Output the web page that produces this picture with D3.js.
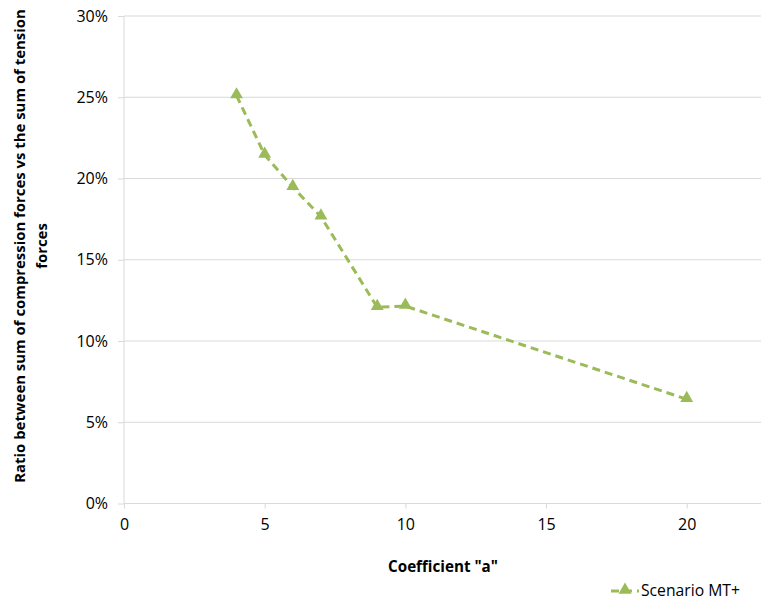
<!DOCTYPE html>
<html><head><meta charset="utf-8">
<script src="https://cdn.jsdelivr.net/npm/d3@7"></script>
<style>body{margin:0;background:#fff}svg{display:block}text{font-family:"Open Sans","Liberation Sans",sans-serif;fill:#000}</style>
</head><body><svg id="c" width="761" height="600"></svg>
<script>
const xValues = [4, 5, 6, 7, 9, 10, 20];
const yValues = [0.251, 0.2145, 0.1946, 0.1765, 0.1208, 0.1215, 0.0642];
const xTicks = [0, 5, 10, 15, 20];
const yTicks = [0, 0.05, 0.10, 0.15, 0.20, 0.25, 0.30];
const seriesName = "Scenario MT+";
const xTitle = 'Coefficient "a"';
const yTitleLines = ["Ratio between sum of compression forces vs the sum of tension", "forces"];

const color = "#9BBB59";
const svg = d3.select("#c");
const x = d3.scaleLinear().domain([0, 22.64]).range([124, 761]);
const y = d3.scaleLinear().domain([0, 0.30]).range([503.5, 16]);

// fit a text element's font size so its width matches a target
function fit(sel, target) {
  const n = sel.node();
  const fs = +sel.attr("font-size");
  const w = n.getComputedTextLength();
  sel.attr("font-size", fs * target / w);
}

// gridlines
svg.append("g").selectAll("line").data(yTicks.slice(1)).join("line")
  .attr("x1", 124).attr("x2", 761).attr("y1", d => y(d)).attr("y2", d => y(d))
  .attr("stroke", "#d9d9d9").attr("stroke-width", 1);

// y axis
const ya = svg.append("g").attr("transform", "translate(124,0)")
  .call(d3.axisLeft(y).tickValues(yTicks).tickFormat(d3.format(".0%")).tickSize(6).tickPadding(10));
ya.select(".domain").attr("stroke", "#d9d9d9").attr("d", `M0,${y(0.30)}V${y(0)}`);
ya.selectAll(".tick line").attr("stroke", "#d9d9d9");
ya.selectAll(".tick text").attr("font-size", 16).attr("fill", "#000").style("font-family", '"Open Sans",sans-serif');

// x axis
const xa = svg.append("g").attr("transform", `translate(0,${y(0)})`)
  .call(d3.axisBottom(x).tickValues(xTicks).tickSize(5).tickPadding(10));
xa.select(".domain").attr("stroke", "#d9d9d9").attr("d", `M124,0H761`);
xa.selectAll(".tick line").attr("stroke", "#d9d9d9");
xa.selectAll(".tick text").attr("font-size", 16).attr("fill", "#000").style("font-family", '"Open Sans",sans-serif');

// line
const line = d3.line().x((d, i) => x(xValues[i])).y(d => y(d));
svg.append("path").datum(yValues).attr("d", line)
  .attr("fill", "none").attr("stroke", color).attr("stroke-width", 3)
  .attr("stroke-dasharray", "8,5");

const tri = d3.symbol().type(d3.symbolTriangle).size(72);
svg.append("g").selectAll("path").data(yValues).join("path")
  .attr("d", tri).attr("fill", color)
  .attr("transform", (d, i) => `translate(${x(xValues[i])},${y(d) - 1})`);

// x title
const xt = svg.append("text").attr("x", 443).attr("y", 572).attr("text-anchor", "middle")
  .attr("font-size", 14).attr("font-weight", "bold").text(xTitle);
fit(xt, 110);

// y title
yTitleLines.forEach((t, i) => {
  svg.append("text").attr("class", "yt").attr("transform", `translate(${25 + i * 22},246) rotate(-90)`)
    .attr("text-anchor", "middle").attr("font-size", 14).attr("font-weight", "bold").text(t);
});
const yts = svg.selectAll("text.yt");
const first = d3.select(yts.nodes()[0]);
fit(first, 474);
yts.attr("font-size", first.attr("font-size"));

// legend
svg.append("line").attr("x1", 611).attr("x2", 639).attr("y1", 591).attr("y2", 591)
  .attr("stroke", color).attr("stroke-width", 3).attr("stroke-dasharray", "8,5");
svg.append("path").attr("d", tri).attr("fill", color).attr("transform", "translate(625,590)");
const lt = svg.append("text").attr("x", 641).attr("y", 596).attr("font-size", 15).text(seriesName);
fit(lt, 99);
</script></body></html>
